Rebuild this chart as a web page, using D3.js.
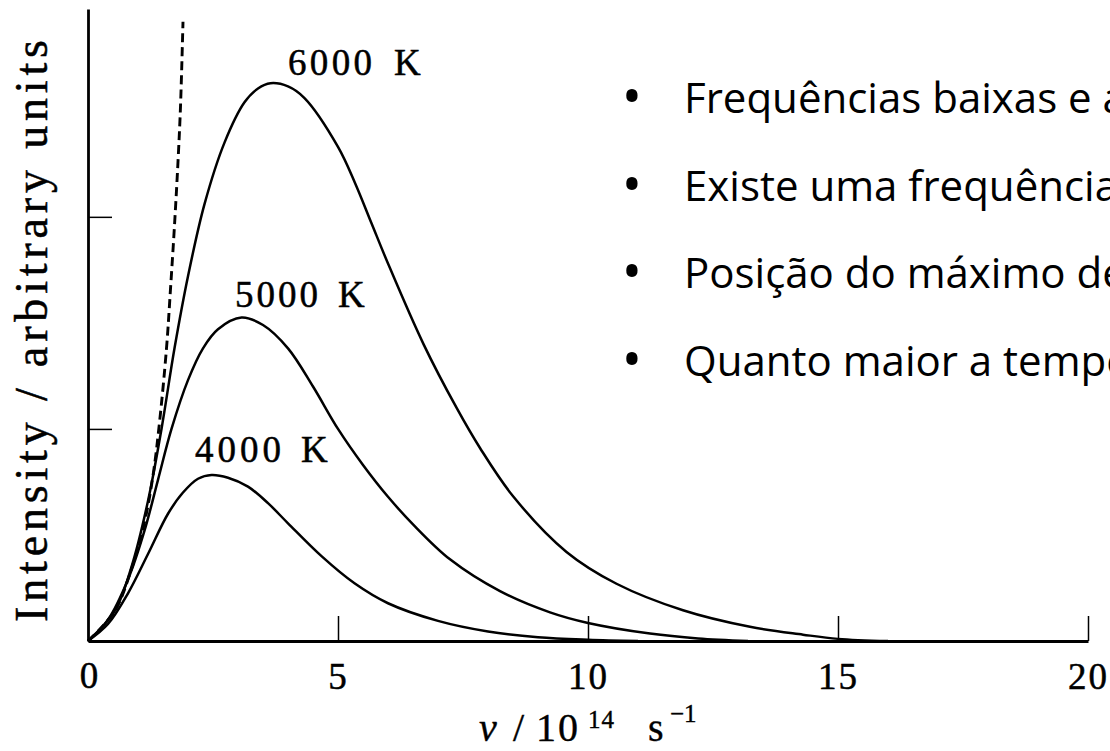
<!DOCTYPE html>
<html>
<head>
<meta charset="utf-8">
<script src="https://cdn.jsdelivr.net/npm/d3@7"></script>
<style>
  html, body { margin: 0; padding: 0; background: #fff; }
  svg { display: block; }
</style>
</head>
<body>
<svg id="chart" width="1110" height="751"></svg>
<script>
// Spectral intensity of a black body (arbitrary units) vs frequency (10^14 s^-1)
const nu4000 = [0, 0.4, 0.8, 1.2, 1.6, 1.9, 2.2, 2.47, 2.8, 3.2, 3.6, 4.0, 4.67, 5.33, 6.0, 7.0, 8.0, 9.0, 10.0, 11.0];
const i4000  = [0, 0.08, 0.225, 0.41, 0.60, 0.70, 0.765, 0.783, 0.77, 0.728, 0.65, 0.555, 0.40, 0.272, 0.178, 0.095, 0.045, 0.018, 0.006, 0];

const nu5000 = [0, 0.4, 0.8, 1.13, 1.4, 1.67, 2.0, 2.3, 2.6, 3.07, 3.5, 4.0, 4.5, 5.0, 5.5, 6.0, 6.5, 7.24, 8.24, 9.24, 10.0, 11.24, 12.2, 13.2];
const i5000  = [0, 0.10, 0.29, 0.52, 0.76, 1.0, 1.23, 1.38, 1.47, 1.525, 1.49, 1.38, 1.20, 1.0, 0.83, 0.68, 0.55, 0.385, 0.235, 0.135, 0.085, 0.035, 0.012, 0];

const nu6000 = [0, 0.53, 0.87, 1.2, 1.47, 1.73, 2.0, 2.33, 2.73, 3.13, 3.4, 3.65, 4.0, 4.33, 5.0, 5.34, 5.67, 6.0, 6.71, 7.37, 7.84, 8.51, 9.57, 10.57, 11.9, 13.24, 14.3, 15.0, 16.0];
const i6000  = [0, 0.14, 0.35, 0.66, 1.0, 1.38, 1.72, 2.06, 2.35, 2.54, 2.605, 2.63, 2.615, 2.56, 2.33, 2.16, 1.97, 1.78, 1.40, 1.10, 0.91, 0.68, 0.42, 0.27, 0.145, 0.067, 0.03, 0.01, 0];

// Classical (Rayleigh–Jeans) prediction, dashed
const nuRJ = [0, 0.53, 0.87, 1.13, 1.3, 1.43, 1.57, 1.65, 1.73, 1.8, 1.85, 1.9];
const iRJ  = [0, 0.14, 0.34, 0.56, 0.78, 1.03, 1.38, 1.66, 1.96, 2.26, 2.52, 2.92];

const xTicks = [5, 10, 15, 20];
const xTickLabels = ["5", "10", "15", "20"];
const yTicks = [1, 2];

const curveLabels = ["4000 K", "5000 K", "6000 K"];

const bullets = [
  "Frequências baixas e altas têm baixa intensidade",
  "Existe uma frequência de intensidade máxima",
  "Posição do máximo depende da temperatura",
  "Quanto maior a temperatura, maior a intensidade"
];

const svg = d3.select("#chart");
const serif = "'Liberation Serif', 'DejaVu Serif', serif";

const x = d3.scaleLinear().domain([0, 20]).range([88, 1088]);
const y = d3.scaleLinear().domain([0, 2.98]).range([641, 9]);

const line = d3.line()
  .x(d => x(d[0]))
  .y(d => y(d[1]))
  .curve(d3.curveCatmullRom.alpha(0.5));

const zip = (a, b) => a.map((v, i) => [v, b[i]]);

// curves
const series = [
  { pts: zip(nu4000, i4000), dash: null, w: 2.5 },
  { pts: zip(nu5000, i5000), dash: null, w: 2.5 },
  { pts: zip(nu6000, i6000), dash: null, w: 2.5 },
  { pts: zip(nuRJ, iRJ), dash: "9,5", w: 2.9 }
];

svg.append("g").selectAll("path")
  .data(series)
  .join("path")
  .attr("d", d => line(d.pts))
  .attr("fill", "none")
  .attr("stroke", "#000")
  .attr("stroke-width", d => d.w)
  .attr("stroke-dasharray", d => d.dash);

// x axis
const xAxis = d3.axisBottom(x)
  .tickValues(xTicks)
  .tickFormat((d, i) => xTickLabels[i])
  .tickSizeInner(-25)
  .tickSizeOuter(0)
  .tickPadding(22);

const gx = svg.append("g").attr("transform", `translate(0,${y(0)})`).call(xAxis);
gx.select(".domain").attr("stroke-width", 2.8);
gx.selectAll(".tick line").attr("stroke-width", 1.5);
gx.selectAll(".tick text")
  .attr("font-family", serif)
  .attr("font-size", 37)
  .attr("letter-spacing", 2)
  .attr("fill", "#000")
  .attr("stroke", "#000")
  .attr("stroke-width", 0.5);

// zero label at origin
svg.append("text")
  .attr("x", x(0) + 1)
  .attr("y", 688)
  .attr("text-anchor", "middle")
  .attr("font-family", serif)
  .attr("font-size", 37)
  .attr("stroke", "#000")
  .attr("stroke-width", 0.5)
  .text("0");

// y axis
const yAxis = d3.axisLeft(y)
  .tickValues(yTicks)
  .tickFormat("")
  .tickSizeInner(-24)
  .tickSizeOuter(0);

const gy = svg.append("g").attr("transform", `translate(${x(0)},0)`).call(yAxis);
gy.select(".domain").attr("stroke-width", 2.8);
gy.selectAll(".tick line").attr("stroke-width", 1.5);

// curve labels: number, then the unit K set apart
const labelPos = [
  { x: 195, y: 462, w: 86, kx: 301 },
  { x: 235, y: 307, w: 83, kx: 338 },
  { x: 288, y: 75,  w: 84, kx: 394 }
];
const lg = svg.append("g")
  .attr("font-family", serif)
  .attr("font-size", 37)
  .attr("fill", "#000")
  .attr("stroke", "#000")
  .attr("stroke-width", 0.5);
curveLabels.forEach((lab, i) => {
  const [num, unit] = lab.split(" ");
  const p = labelPos[i];
  lg.append("text")
    .attr("x", p.x).attr("y", p.y)
    .attr("textLength", p.w).attr("lengthAdjust", "spacing")
    .text(num);
  lg.append("text")
    .attr("x", p.kx).attr("y", p.y)
    .text(unit);
});

// y axis title
svg.append("text")
  .attr("transform", "translate(47,331) rotate(-90)")
  .attr("text-anchor", "middle")
  .attr("textLength", 582)
  .attr("lengthAdjust", "spacing")
  .attr("font-family", serif)
  .attr("font-size", 46)
  .attr("fill", "#000")
  .attr("stroke", "#000")
  .attr("stroke-width", 0.5)
  .text("Intensity / arbitrary units");

// x axis title: ν / 10^14 s^-1
const xt = svg.append("g")
  .attr("font-family", serif)
  .attr("fill", "#000")
  .attr("stroke", "#000")
  .attr("stroke-width", 0.4);
const tb = 741;
xt.append("text").attr("x", 479).attr("y", tb).attr("font-size", 40)
  .attr("font-style", "italic").text("ν");
xt.append("text").attr("x", 513).attr("y", tb).attr("font-size", 40).text("/");
xt.append("text").attr("x", 536).attr("y", tb).attr("font-size", 40)
  .attr("letter-spacing", 2).text("10");
xt.append("text").attr("x", 588).attr("y", tb - 13).attr("font-size", 25)
  .attr("letter-spacing", 1).text("14");
xt.append("text").attr("x", 648).attr("y", tb).attr("font-size", 40).text("s");
xt.append("text").attr("x", 670).attr("y", tb - 19).attr("font-size", 25).text("−1");

// bullet list
const sans = "'Open Sans', 'Noto Sans', sans-serif";
const bl = svg.append("g").attr("font-family", sans).attr("fill", "#000");
const baseY = [113, 201, 288, 376];
bl.selectAll("text.b")
  .data(bullets)
  .join("text")
  .attr("class", "b")
  .attr("x", 632)
  .attr("y", (d, i) => baseY[i] + 3)
  .attr("text-anchor", "middle")
  .attr("font-size", 54)
  .text("•");
bl.selectAll("text.t")
  .data(bullets)
  .join("text")
  .attr("class", "t")
  .attr("x", 684)
  .attr("y", (d, i) => baseY[i])
  .attr("font-size", 42)
  .text(d => d);
</script>
</body>
</html>
